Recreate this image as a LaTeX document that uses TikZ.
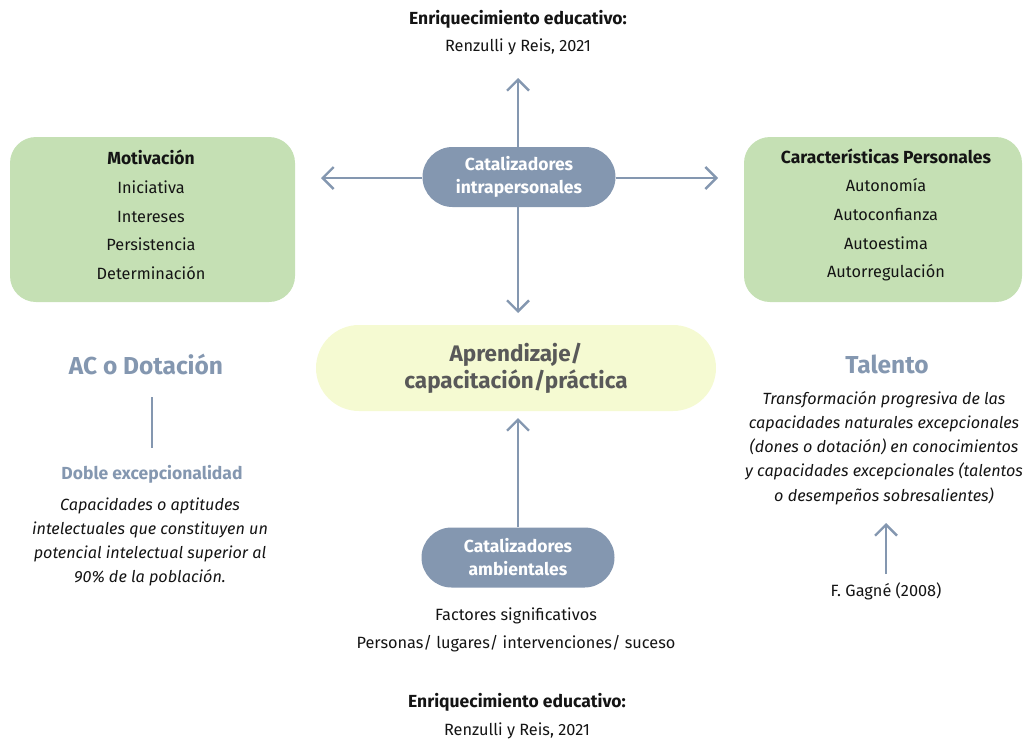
\documentclass[tikz,border=0pt]{standalone}
\usepackage{fontspec}
\setmainfont{Fira Sans}
\usetikzlibrary{arrows.meta}
\definecolor{slate}{RGB}{132,151,176}
\definecolor{leaf}{RGB}{197,224,180}
\definecolor{cream}{RGB}{245,250,210}
\definecolor{ink}{RGB}{20,20,20}
\definecolor{dim}{RGB}{89,89,89}
\newcommand{\heavy}[1]{{\fontsize{17.5}{28.5}\selectfont\bfseries #1}}
\tikzset{
  body/.style={font=\fontsize{16.3}{28.7}\selectfont, text=ink, align=center, inner sep=0pt},
  note/.style={font=\fontsize{16.2}{24.2}\selectfont\itshape, text=ink, align=center, inner sep=0pt},
  pill/.style={fill=slate, draw=none, rounded corners=30pt, minimum width=193pt, minimum height=60pt,
    text=white, font=\fontsize{17.5}{23}\selectfont\bfseries, align=center},
  greenbox/.style={fill=leaf, draw=none, rounded corners=26pt, minimum width=285pt, minimum height=165pt},
  heading/.style={font=\fontsize{24.5}{28}\selectfont\bfseries, text=slate, inner sep=0pt},
  link/.style={draw=slate, line width=2.4pt, -{Straight Barb[length=11pt,width=22pt,line width=2.4pt]}},
  plain/.style={draw=slate, line width=2.4pt},
}
\begin{document}
\begin{tikzpicture}[x=1pt,y=-1pt]
\useasboundingbox (0,0) rectangle (1027,745);

% top reference
\node[body] (toph) at (518,19) {\heavy{Enriquecimiento educativo:}};
\node[body] (topr) at (518,47) {Renzulli y Reis, 2021};

% intrapersonal catalysts
\node[pill] (intra) at (519,177) {Catalizadores\\intrapersonales};
\coordinate (upend) at (518,78);
\coordinate (leftend) at (321,178);
\coordinate (rightend) at (718,178);
\coordinate (downend) at (518,313);
\draw[link] (intra.north -| upend) -- (upend);
\draw[link] (intra.west |- leftend) -- (leftend);
\draw[link] (intra.east |- rightend) -- (rightend);
\draw[link] (intra.south -| downend) -- (downend);

% green boxes
\node[greenbox] (mbox) at (152.5,219.5) {};
\node[body] (mtxt) at (151,215) {\heavy{Motivación}\\Iniciativa\\Intereses\\Persistencia\\Determinación};
\node[greenbox, minimum width=278pt] (cbox) at (883,219.5) {};
\node[body] (ctxt) at (886,215) {\heavy{Características Personales}\\Autonomía\\Autoconfianza\\Autoestima\\Autorregulación};

% central learning process
\node[fill=cream, draw=none, rounded corners=43pt, minimum width=400pt, minimum height=86pt,
  text=dim, font=\fontsize{22.5}{27}\selectfont\bfseries, align=center] (learn) at (516,368)
  {Aprendizaje/\\capacitación/práctica};

% left column
\node[heading] (ac) at (146,364) {AC o Dotación};
\coordinate (acl1) at (152,397);
\coordinate (acl2) at (152,448);
\draw[plain] (acl1) -- (acl2);
\node[heading, font=\fontsize{17.5}{20}\selectfont\bfseries] (doble) at (152,474) {Doble excepcionalidad};
\node[note] (acdef) at (150,542) {Capacidades o aptitudes\\intelectuales que constituyen un\\potencial intelectual superior al\\90\% de la población.};

% right column
\node[heading] (tal) at (887,364) {Talento};
\node[note] (taldef) at (884,448) {Transformación progresiva de las\\capacidades naturales excepcionales\\(dones o dotación) en conocimientos\\y capacidades excepcionales (talentos\\o desempeños sobresalientes)};
\node[body] (gagne) at (886,591) {F. Gagné (2008)};
\coordinate (gup) at (886,523);
\draw[link] (gagne.north |- 0,574) -- (gup);

% environmental catalysts
\node[pill] (amb) at (518,557.5) {Catalizadores\\ambientales};
\coordinate (ambup) at (518,418);
\draw[link] (amb.north) -- (ambup);
\node[body] (fact) at (516,630) {Factores significativos\\Personas/ lugares/ intervenciones/ suceso};

% bottom reference
\node[body] (both) at (517,702) {\heavy{Enriquecimiento educativo:}};
\node[body] (botr) at (517,731) {Renzulli y Reis, 2021};
\end{tikzpicture}
\end{document}
